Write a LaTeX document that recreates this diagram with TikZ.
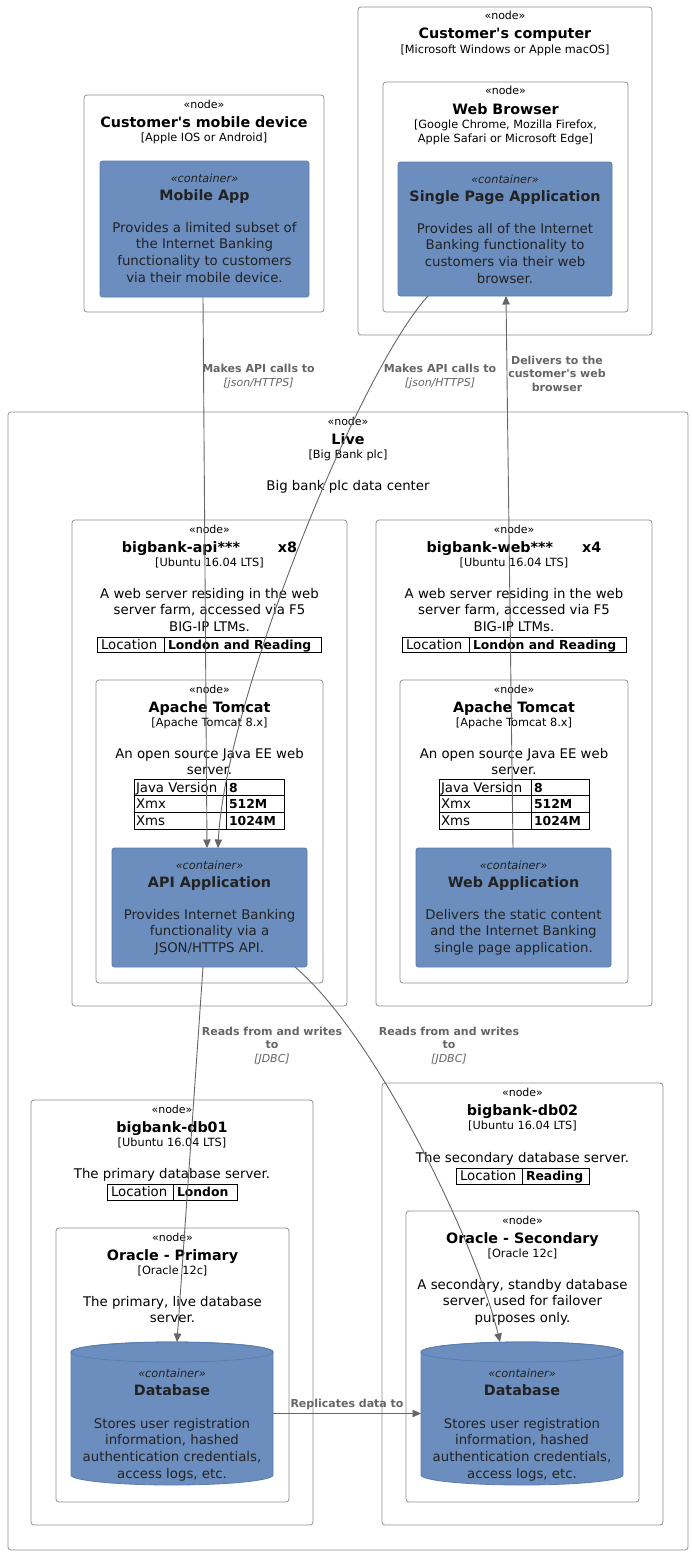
\documentclass[tikz,border=0pt]{standalone}
\usepackage{fontspec}
\setmainfont{DejaVu Sans}
\usetikzlibrary{arrows.meta}
\definecolor{contblue}{HTML}{6B8EBF}
\definecolor{contedge}{HTML}{5A7DB0}
\definecolor{boxgray}{HTML}{8E8E8E}
\definecolor{conngray}{HTML}{666666}
\definecolor{ink}{HTML}{222222}
\newcounter{tl}
\newcommand\fstereo{\fontsize{11}{13}\selectfont}
\newcommand\ftitle{\fontsize{14.3}{17}\selectfont\bfseries}
\newcommand\ftech{\fontsize{11.3}{13}\selectfont}
\newcommand\fdesc{\fontsize{13.3}{16}\selectfont}
\newcommand\ftblb{\fontsize{12.4}{15}\selectfont\bfseries}
\newcommand\flab{\fontsize{11}{13}\selectfont\bfseries}
\newcommand\flabi{\fontsize{11}{13}\selectfont\itshape}
\newcommand\fcst{\fontsize{11.3}{13}\selectfont\itshape}
\tikzset{
  txt/.style={inner sep=0pt, outer sep=0pt, anchor=base},
  nodebox/.style={draw=boxgray, line width=0.8pt, rounded corners=3pt, fill=white, inner sep=0pt, outer sep=0pt, anchor=north west},
  contbox/.style={draw=contedge, line width=0.8pt, rounded corners=2.5pt, fill=contblue, inner sep=0pt, outer sep=0pt, anchor=north west},
  dbhold/.style={inner sep=0pt, outer sep=0pt, anchor=north west},
  conn/.style={draw=conngray, line width=0.9pt, -{Triangle[length=8.5pt,width=7.5pt]}, conngray},
  tbl/.style={draw=black, line width=0.8pt},
  lab/.style={font=\flab, text=conngray},
  labi/.style={font=\flabi, text=conngray},
}
\newcommand\zBX[6]{\node[#1, minimum width={(#5-#3)*1pt}, minimum height={(#6-#4)*1pt}] (#2) at (#3,#4) {};}
\newcommand\zML[5]{\foreach \mlitem [count=\mlidx from 0] in {#5}{\stepcounter{tl}\node[txt,#1] (tl\arabic{tl}) at (#2,#3+\mlidx*#4) {\mlitem};}}
\newcommand\zHD[4]{\zML{font=\fstereo}{#1}{#2+13}{0}{«node»}\zML{font=\ftitle}{#1}{#2+32}{0}{{#3}}\zML{font=\ftech}{#1}{#2+46}{14}{#4}}
\newcommand\zCT[4]{\zML{font=\fcst,text=ink}{#1}{#2+21}{0}{«container»}\zML{font=\ftitle,text=ink}{#1}{#2+39}{0}{{#3}}\zML{font=\fdesc,text=ink}{#1}{#2+71}{16.7}{#4}}
\begin{document}
\begin{tikzpicture}[x=1pt,y=-1pt]
\fill[white] (0,0) rectangle (692,1555);
\useasboundingbox (0,0) rectangle (692,1555);

% ---- customer's computer
\zBX{nodebox}{comp}{358}{7}{652}{335}
\zHD{505}{7}{Customer\textquotesingle s computer}{{[Microsoft Windows or Apple macOS]}}
\zBX{nodebox}{browser}{383}{82}{628}{312}
\zHD{505.5}{82}{Web Browser}{{[Google Chrome, Mozilla Firefox,},{Apple Safari or Microsoft Edge]}}
\zBX{contbox}{spa}{398}{162}{612}{296}
\zCT{505}{162}{Single Page Application}{{Provides all of the Internet},{Banking functionality to},{customers via their web},{browser.}}

% ---- mobile
\zBX{nodebox}{mobile}{84}{95}{324}{312}
\zHD{204}{95}{Customer\textquotesingle s mobile device}{{[Apple IOS or Android]}}
\zBX{contbox}{mobapp}{100}{161}{309}{297}
\zCT{204.5}{161}{Mobile App}{{Provides a limited subset of},{the Internet Banking},{functionality to customers},{via their mobile device.}}

% ---- live
\zBX{nodebox}{live}{8}{412}{688}{1550}
\zHD{348}{412}{Live}{{[Big Bank plc]}}
\zML{font=\fdesc}{348}{490}{0}{{Big bank plc data center}}

% ---- bigbank-api
\zBX{nodebox}{apinode}{72}{520}{347}{1006}
\zHD{209.5}{520}{bigbank-api***\hspace{38pt}x8}{{[Ubuntu 16.04 LTS]}}
\zML{font=\fdesc}{209.5}{598}{16.7}{{A web server residing in the web},{server farm, accessed via F5},{BIG-IP LTMs.}}
\draw[tbl] (97,637) rectangle (321,652);
\draw[tbl] (164,637) -- (164,652);
\zML{font=\fdesc,anchor=base west}{101}{649}{0}{Location}
\zML{font=\ftblb,anchor=base west}{168}{649}{0}{London and Reading}
\zBX{nodebox}{tcapi}{96}{680}{323}{983}
\zHD{209.5}{680}{Apache Tomcat}{{[Apache Tomcat 8.x]}}
\zML{font=\fdesc}{209.5}{758}{16.7}{{An open source Java EE web},{server.}}
\draw[tbl] (134,779) rectangle (284,829);
\draw[tbl] (134,795.7) -- (284,795.7) (134,812.3) -- (284,812.3) (226,779) -- (226,829);
\zML{font=\fdesc,anchor=base west}{136}{792}{16.6}{{Java Version},{Xmx},{Xms}}
\zML{font=\ftblb,anchor=base west}{229}{792}{16.6}{{8},{512M},{1024M}}
\zBX{contbox}{apiapp}{112}{848}{307}{967}
\zCT{209.5}{848}{API Application}{{Provides Internet Banking},{functionality via a},{JSON/HTTPS API.}}

% ---- bigbank-web
\zBX{nodebox}{webnode}{376}{520}{652}{1006}
\zHD{514}{520}{bigbank-web***\hspace{29pt}x4}{{[Ubuntu 16.04 LTS]}}
\zML{font=\fdesc}{514}{598}{16.7}{{A web server residing in the web},{server farm, accessed via F5},{BIG-IP LTMs.}}
\draw[tbl] (402,637) rectangle (626,652);
\draw[tbl] (469,637) -- (469,652);
\zML{font=\fdesc,anchor=base west}{406}{649}{0}{Location}
\zML{font=\ftblb,anchor=base west}{473}{649}{0}{London and Reading}
\zBX{nodebox}{tcweb}{400}{680}{628}{983}
\zHD{514}{680}{Apache Tomcat}{{[Apache Tomcat 8.x]}}
\zML{font=\fdesc}{514}{758}{16.7}{{An open source Java EE web},{server.}}
\draw[tbl] (439,779) rectangle (589,829);
\draw[tbl] (439,795.7) -- (589,795.7) (439,812.3) -- (589,812.3) (531,779) -- (531,829);
\zML{font=\fdesc,anchor=base west}{441}{792}{16.6}{{Java Version},{Xmx},{Xms}}
\zML{font=\ftblb,anchor=base west}{534}{792}{16.6}{{8},{512M},{1024M}}
\zBX{contbox}{webapp}{416}{848}{611}{967}
\zCT{513.5}{848}{Web Application}{{Delivers the static content},{and the Internet Banking},{single page application.}}

% ---- db01
\zBX{nodebox}{dbnodeA}{31}{1100}{313}{1525}
\zHD{172}{1100}{bigbank-db01}{{[Ubuntu 16.04 LTS]}}
\zML{font=\fdesc}{172}{1178}{0}{{The primary database server.}}
\draw[tbl] (107,1184) rectangle (237,1200);
\draw[tbl] (173,1184) -- (173,1200);
\zML{font=\fdesc,anchor=base west}{111}{1196}{0}{Location}
\zML{font=\ftblb,anchor=base west}{177}{1196}{0}{London}
\zBX{nodebox}{oraA}{56}{1228}{289}{1502}
\zHD{172.5}{1228}{Oracle - Primary}{{[Oracle 12c]}}
\zML{font=\fdesc}{172.5}{1306}{16.7}{{The primary, live database},{server.}}
\node[dbhold, minimum width=202pt, minimum height=143pt] (dbA) at (71,1342) {};
\filldraw[fill=contblue, draw=contedge, line width=0.8pt] ([yshift=-10pt]dbA.north west) -- ([yshift=10pt]dbA.south west) arc[start angle=180, end angle=360, x radius=101pt, y radius=10pt] -- ([yshift=-10pt]dbA.north east) arc[start angle=0, end angle=180, x radius=101pt, y radius=10pt] -- cycle;
\draw[contedge, line width=0.8pt] ([yshift=-10pt]dbA.north) ellipse [x radius=101pt, y radius=10pt];
\zML{font=\fcst,text=ink}{172}{1377}{0}{«container»}
\zML{font=\ftitle,text=ink}{172}{1395}{0}{Database}
\zML{font=\fdesc,text=ink}{172}{1428}{16.7}{{Stores user registration},{information, hashed},{authentication credentials,},{access logs, etc.}}

% ---- db02
\zBX{nodebox}{dbnodeB}{382}{1083}{663}{1525}
\zHD{522.5}{1083}{bigbank-db02}{{[Ubuntu 16.04 LTS]}}
\zML{font=\fdesc}{522.5}{1162}{0}{{The secondary database server.}}
\draw[tbl] (456,1168) rectangle (589,1184);
\draw[tbl] (522,1168) -- (522,1184);
\zML{font=\fdesc,anchor=base west}{460}{1180}{0}{Location}
\zML{font=\ftblb,anchor=base west}{526}{1180}{0}{Reading}
\zBX{nodebox}{oraB}{406}{1211}{639}{1502}
\zHD{522.5}{1211}{Oracle - Secondary}{{[Oracle 12c]}}
\zML{font=\fdesc}{522.5}{1289}{16.7}{{A secondary, standby database},{server, used for failover},{purposes only.}}
\node[dbhold, minimum width=202pt, minimum height=143pt] (dbB) at (421,1342) {};
\filldraw[fill=contblue, draw=contedge, line width=0.8pt] ([yshift=-10pt]dbB.north west) -- ([yshift=10pt]dbB.south west) arc[start angle=180, end angle=360, x radius=101pt, y radius=10pt] -- ([yshift=-10pt]dbB.north east) arc[start angle=0, end angle=180, x radius=101pt, y radius=10pt] -- cycle;
\draw[contedge, line width=0.8pt] ([yshift=-10pt]dbB.north) ellipse [x radius=101pt, y radius=10pt];
\zML{font=\fcst,text=ink}{522}{1377}{0}{«container»}
\zML{font=\ftitle,text=ink}{522}{1395}{0}{Database}
\zML{font=\fdesc,text=ink}{522}{1428}{16.7}{{Stores user registration},{information, hashed},{authentication credentials,},{access logs, etc.}}

% ---- connectors
\draw[conn] ([xshift=-1.5pt]mobapp.south) -- ([xshift=-2.5pt]apiapp.north);
\draw[conn] ([xshift=-77pt]spa.south) .. controls (360,370) and (225,700) .. ([xshift=8.5pt]apiapp.north);
\draw[conn] ([xshift=-0.5pt]webapp.north) -- ([xshift=1pt]spa.south);
\draw[conn] ([xshift=-6.5pt]apiapp.south) -- ([xshift=5pt]dbA.north);
\draw[conn] ([xshift=85.5pt]apiapp.south) .. controls (380,1040) and (478,1250) .. ([xshift=-22pt]dbB.north);
\draw[conn] (dbA.east) -- (dbB.west);

% ---- connector labels
\zML{lab}{258.5}{372}{0}{{Makes API calls to}}
\zML{labi}{258.5}{386}{0}{{[json/HTTPS]}}
\zML{lab}{440}{372}{0}{{Makes API calls to}}
\zML{labi}{440}{386}{0}{{[json/HTTPS]}}
\zML{lab}{557}{364}{13.5}{{Delivers to the},{customer\textquotesingle s web},{browser}}
\zML{lab}{272}{1035}{13.5}{{Reads from and writes},{to}}
\zML{labi}{272}{1062}{0}{{[JDBC]}}
\zML{lab}{449}{1035}{13.5}{{Reads from and writes},{to}}
\zML{labi}{449}{1062}{0}{{[JDBC]}}
\zML{lab}{347}{1407}{0}{{Replicates data to}}
\end{tikzpicture}
\end{document}
